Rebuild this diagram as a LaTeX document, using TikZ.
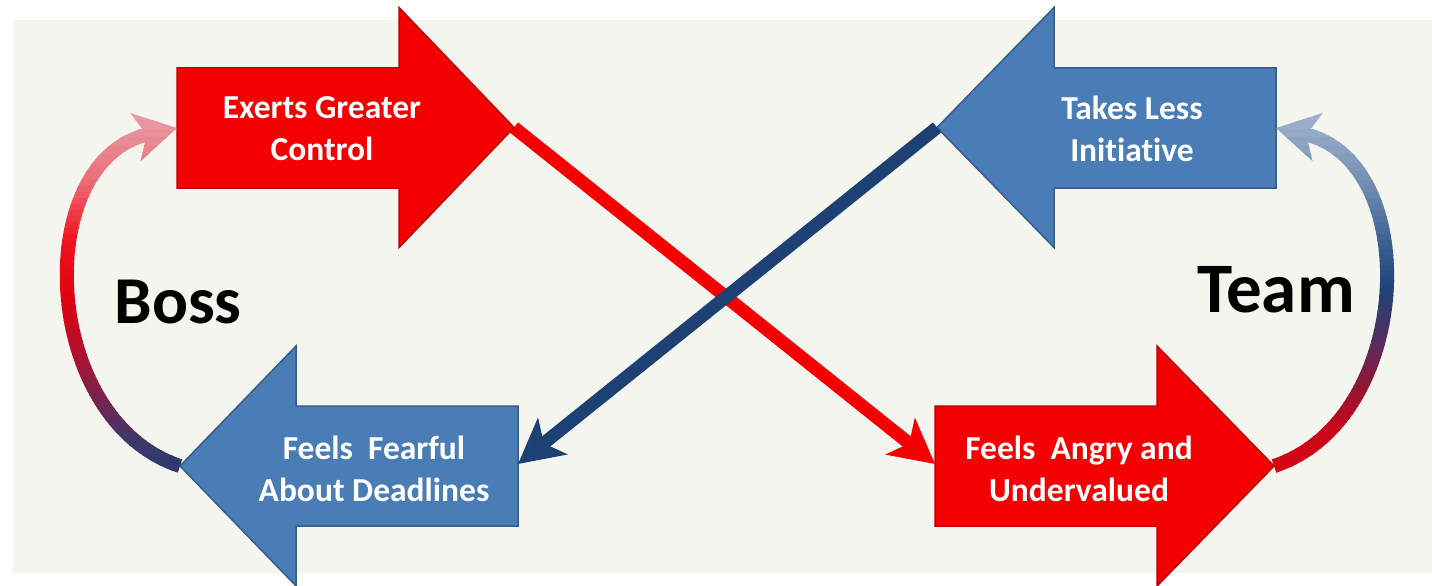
\documentclass[tikz,border=0pt]{standalone}
\usepackage{fontspec}
\setmainfont{Carlito}[Ligatures=NoCommon]
\usetikzlibrary{arrows.meta}
\definecolor{bgc}{HTML}{F5F5F0}
\definecolor{redf}{HTML}{F40000}
\definecolor{redd}{HTML}{C00000}
\definecolor{bluef}{HTML}{4A7CB6}
\definecolor{blued}{HTML}{385D8A}
\definecolor{navy}{HTML}{1E4173}
\definecolor{lA}{RGB}{228,172,182}
\definecolor{lB}{RGB}{236,110,120}
\definecolor{lC}{RGB}{240,20,30}
\definecolor{lD}{RGB}{225,0,15}
\definecolor{lE}{RGB}{180,15,45}
\definecolor{lF}{RGB}{120,35,80}
\definecolor{lG}{RGB}{60,55,105}
\definecolor{lH}{RGB}{30,62,112}
\definecolor{rA}{RGB}{172,188,208}
\definecolor{rB}{RGB}{118,145,182}
\definecolor{rC}{RGB}{62,98,148}
\definecolor{rD}{RGB}{32,66,118}
\definecolor{rE}{RGB}{85,45,95}
\definecolor{rF}{RGB}{150,20,50}
\definecolor{rG}{RGB}{200,8,25}
\definecolor{rH}{RGB}{220,0,15}
\begin{document}
\begin{tikzpicture}[x=1pt,y=-1pt,
  redshape/.style={fill=redf,draw=redd,line width=1.5pt,line join=miter},
  blueshape/.style={fill=bluef,draw=blued,line width=1.5pt,line join=miter},
  boxtext/.style={text=white,align=center,font=\fontsize{33.5}{42}\selectfont\bfseries,inner sep=0pt},
  bigtext/.style={text=black,font=\bfseries,inner sep=0pt,anchor=base},
  conn/.style={line width=13pt,-{Stealth[length=44pt,width=46pt,inset=11pt]}},
  loopc/.style={line width=14pt,-{Stealth[length=42pt,width=48pt,inset=11pt]}}]
\useasboundingbox (0,0) rectangle (1432,586);
\fill[white] (0,0) rectangle (1432,586);
\fill[bgc] (13,20) rectangle (1432,573);

% named points of the block arrows
\coordinate (back1) at (177,128);
\coordinate (tip1) at (514,127.5);
\coordinate (tip2) at (937,127.5);
\coordinate (back2) at (1276,128);
\coordinate (tip3) at (180,466);
\coordinate (side3) at (518,464);
\coordinate (side4) at (935,464);
\coordinate (tip4) at (1274,466);

% block arrows
\draw[redshape] (177,68) -- (399,68) -- (399,7.5) -- (tip1) -- (399,247.5) -- (399,188) -- (177,188) -- cycle;
\draw[blueshape] (1276,68) -- (1054,68) -- (1054,7.5) -- (tip2) -- (1054,247.5) -- (1054,188) -- (1276,188) -- cycle;
\draw[blueshape] (518,406) -- (296,406) -- (296,346) -- (tip3) -- (296,586) -- (296,526) -- (518,526) -- cycle;
\draw[redshape] (935,406) -- (1157,406) -- (1157,346) -- (tip4) -- (1157,586) -- (1157,526) -- (935,526) -- cycle;

\node[boxtext] (t1) at (322,129) {Exerts Greater\\Control};
\node[boxtext] (t2) at (1132,129) {Takes Less\\Initiative};
\node[boxtext] (t3) at (374,469) {Feels\ \ Fearful\\About Deadlines};
\node[boxtext] (t4) at (1079,469) {Feels\ \ Angry and\\Undervalued};

% crossing connectors
\draw[conn,draw=redf] (tip1) -- (side4);
\draw[conn,draw=navy] (tip2) -- (side3);

% left loop (gradient by horizontal bands)
\foreach \ya/\yb/\ca/\cb in {95/180/lA/lB,180/240/lB/lC,240/300/lC/lD,300/350/lD/lE,350/400/lE/lF,400/440/lF/lG,440/490/lG/lH}{
  \foreach \j in {0,...,9}{
    \pgfmathsetmacro\ys{\ya+(\yb-\ya)*\j/10}
    \pgfmathsetmacro\ye{\ya+(\yb-\ya)*(\j+1)/10+0.7}
    \pgfmathtruncatemacro\p{\j*10+5}
    \begin{scope}
      \clip (0,\ys) rectangle (330,\ye);
      \draw[loopc,draw=\cb!\p!\ca] (tip3) .. controls (40,420) and (30,160) .. (back1);
    \end{scope}
  }
}
% right loop
\foreach \ya/\yb/\ca/\cb in {95/180/rA/rB,180/240/rB/rC,240/290/rC/rD,290/340/rD/rE,340/390/rE/rF,390/430/rF/rG,430/490/rG/rH}{
  \foreach \j in {0,...,9}{
    \pgfmathsetmacro\ys{\ya+(\yb-\ya)*\j/10}
    \pgfmathsetmacro\ye{\ya+(\yb-\ya)*(\j+1)/10+0.7}
    \pgfmathtruncatemacro\p{\j*10+5}
    \begin{scope}
      \clip (1120,\ys) rectangle (1432,\ye);
      \draw[loopc,draw=\cb!\p!\ca] (tip4) .. controls (1414,420) and (1424,160) .. (back2);
    \end{scope}
  }
}

\node[bigtext,font=\fontsize{67}{72}\selectfont\bfseries] (boss) at (178,323) {Boss};
\node[bigtext,font=\fontsize{71}{76}\selectfont\bfseries] (team) at (1276,312) {Team};
\end{tikzpicture}
\end{document}
